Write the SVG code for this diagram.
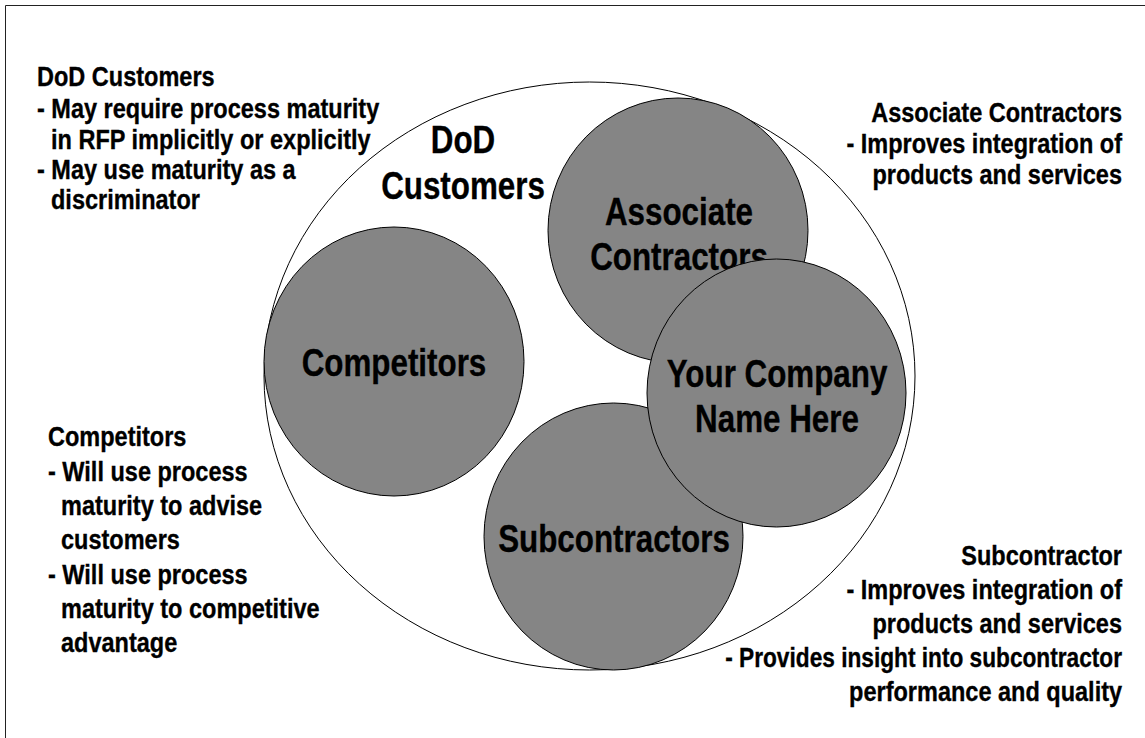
<svg xmlns="http://www.w3.org/2000/svg" width="1145" height="738" viewBox="0 0 1145 738">
  <style>
    text { font-family: 'Liberation Sans Narrow', 'Arial Narrow', 'Liberation Sans', Arial, sans-serif; font-weight: bold; fill: #000; stroke: #000; stroke-width: 0.35; transform-box: fill-box; }
    .side { font-size: 28px; transform-origin: left center; transform: scaleX(0.84); }
    .big { font-size: 38px; text-anchor: middle; transform-origin: center; transform: scaleX(0.825); }
    .r { text-anchor: end; transform-origin: right center; }
    .tight { transform: scaleX(0.81); }
    .disc { fill: #858585; stroke: #000; stroke-width: 1; }
  </style>
  <rect x="0" y="0" width="1145" height="738" fill="#fff"/>
  <g id="frame" stroke="#222" stroke-width="1" fill="none">
    <line x1="5.5" y1="5.5" x2="1145" y2="5.5"/>
    <line x1="5.5" y1="5.5" x2="5.5" y2="738"/>
  </g>
  <g id="dod-customers">
    <ellipse cx="589.5" cy="376" rx="325.5" ry="294" fill="#fff" stroke="#000" stroke-width="1"/>
    <text class="big" x="463" y="153">DoD</text>
    <text class="big" x="463" y="199">Customers</text>
  </g>
  <g id="competitors">
    <ellipse class="disc" cx="394" cy="361.5" rx="130" ry="134.5"/>
    <text class="big" x="394" y="376">Competitors</text>
  </g>
  <g id="associate-contractors">
    <ellipse class="disc" cx="678" cy="230.5" rx="130" ry="132.5"/>
    <text class="big" x="679" y="225">Associate</text>
    <text class="big" x="679" y="270">Contractors</text>
  </g>
  <g id="subcontractors">
    <ellipse class="disc" cx="613.5" cy="536.5" rx="129.5" ry="133.5"/>
    <text class="big" x="614" y="552">Subcontractors</text>
  </g>
  <g id="your-company">
    <ellipse class="disc" cx="776.5" cy="393" rx="129.5" ry="134"/>
    <text class="big" x="777" y="387">Your Company</text>
    <text class="big" x="777" y="432">Name Here</text>
  </g>
  <g id="connectors"></g>
  <g id="note-dod">
    <text class="side" x="37" y="86">DoD Customers</text>
    <text class="side" x="37" y="118">- May require process maturity</text>
    <text class="side" x="51" y="149">in RFP implicitly or explicitly</text>
    <text class="side" x="37" y="179">- May use maturity as a</text>
    <text class="side" x="51" y="209">discriminator</text>
  </g>
  <g id="note-associate">
    <text class="side r" x="1122" y="122">Associate Contractors</text>
    <text class="side r" x="1122" y="153">- Improves integration of</text>
    <text class="side r" x="1122" y="184">products and services</text>
  </g>
  <g id="note-competitors">
    <text class="side" x="48" y="446">Competitors</text>
    <text class="side" x="48" y="481">- Will use process</text>
    <text class="side" x="61" y="515">maturity to advise</text>
    <text class="side" x="61" y="549">customers</text>
    <text class="side" x="48" y="584">- Will use process</text>
    <text class="side" x="61" y="618">maturity to competitive</text>
    <text class="side" x="61" y="652">advantage</text>
  </g>
  <g id="note-subcontractor">
    <text class="side r" x="1122" y="565">Subcontractor</text>
    <text class="side r" x="1122" y="599">- Improves integration of</text>
    <text class="side r" x="1122" y="633">products and services</text>
    <text class="side r tight" x="1122" y="667">- Provides insight into subcontractor</text>
    <text class="side r" x="1122" y="701">performance and quality</text>
  </g>
</svg>
